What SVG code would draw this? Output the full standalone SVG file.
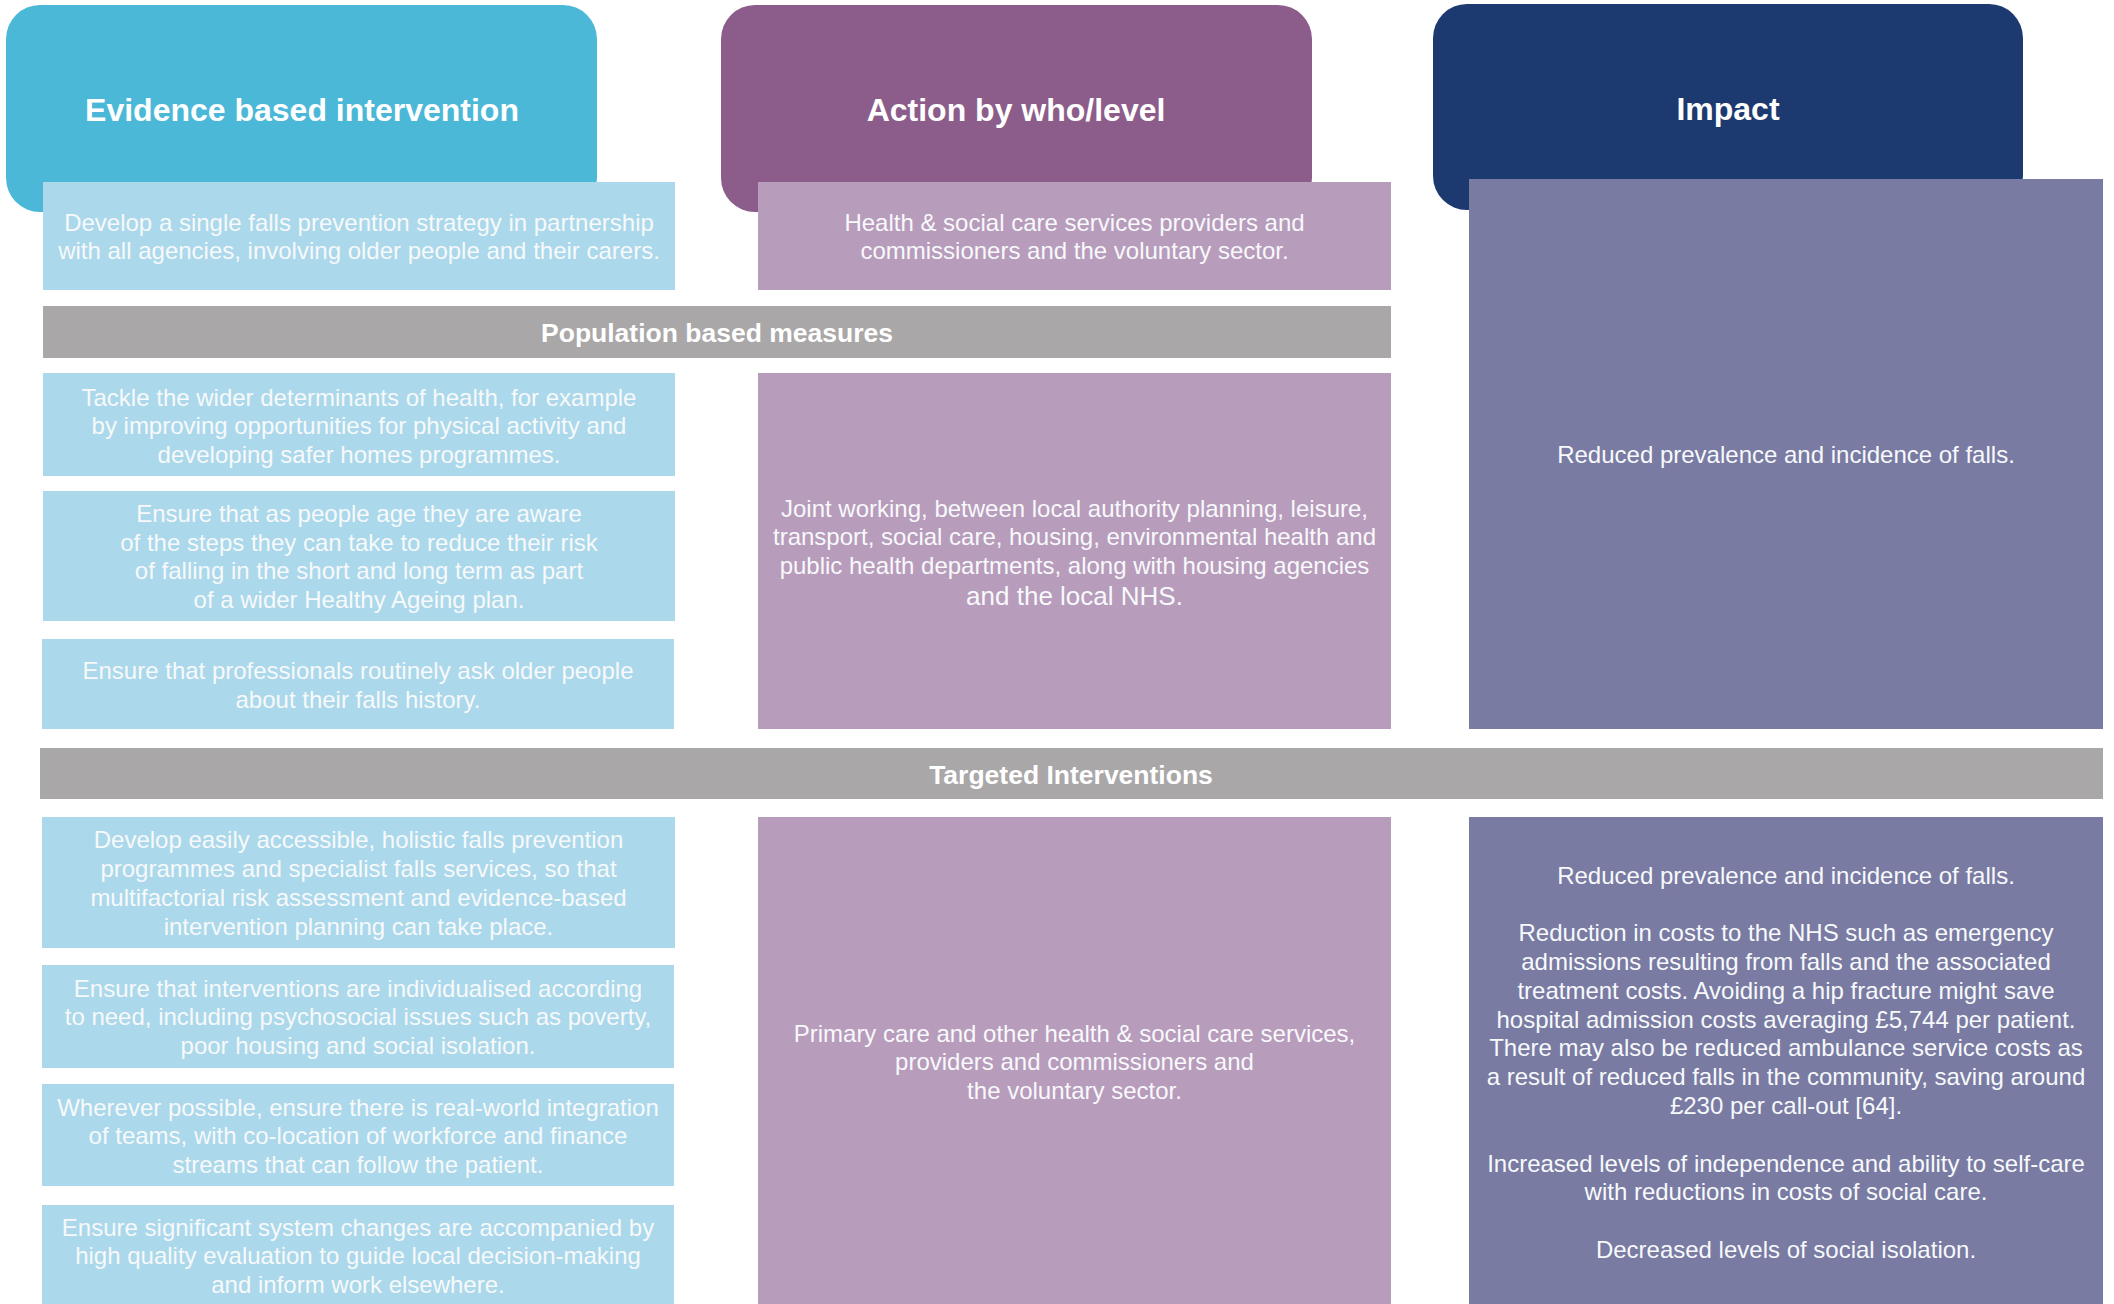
<svg xmlns="http://www.w3.org/2000/svg" width="2114" height="1304" viewBox="0 0 2114 1304">
<style>
.h1{fill:#4CB8D8}.h2{fill:#8C5D8B}.h3{fill:#1D3A70}
.lb{fill:#ABD8EA}.lp{fill:#B89CBC}.im{fill:#797BA3}.bar{fill:#AAA7A8}
.title{font-family:"Liberation Sans",Arial,sans-serif;font-weight:bold;font-size:32px;fill:#FFFFFF;text-anchor:middle}
.bt{font-family:"Liberation Sans",Arial,sans-serif;font-weight:bold;font-size:26.5px;fill:#FFFFFF;text-anchor:middle}
.t{font-family:"Liberation Sans",Arial,sans-serif;font-size:24px;fill:#F7F9FB;text-anchor:middle}
</style>
<rect width="2114" height="1304" fill="#FFFFFF"/>
<g id="header-evidence">
<rect class="h1" x="6" y="5" width="591" height="207" rx="34"/>
<text class="title" x="302" y="120.5">Evidence based intervention</text>
</g>
<g id="header-action">
<rect class="h2" x="721" y="5" width="591" height="207" rx="34"/>
<text class="title" x="1016" y="120.5">Action by who/level</text>
</g>
<g id="header-impact">
<rect class="h3" x="1433" y="4" width="590" height="206" rx="34"/>
<text class="title" x="1728" y="119.5">Impact</text>
</g>
<g id="ev-strategy">
<rect class="lb" x="43" y="182" width="632" height="108"/>
<text class="t" x="359"><tspan x="359" y="230.5">Develop a single falls prevention strategy in partnership</tspan><tspan x="359" y="259.3">with all agencies, involving older people and their carers.</tspan></text>
</g>
<g id="act-strategy">
<rect class="lp" x="758" y="182" width="633" height="108"/>
<text class="t"><tspan x="1074.5" y="230.5">Health &amp; social care services providers and</tspan><tspan x="1074.5" y="259.3">commissioners and the voluntary sector.</tspan></text>
</g>
<g id="impact-population">
<rect class="im" x="1469" y="179" width="634" height="550"/>
<text class="t" x="1786" y="462.5">Reduced prevalence and incidence of falls.</text>
</g>
<g id="bar-population">
<rect class="bar" x="43" y="306" width="1348" height="52"/>
<text class="bt" x="717" y="342">Population based measures</text>
</g>
<g id="ev-tackle">
<rect class="lb" x="43" y="373" width="632" height="103"/>
<text class="t"><tspan x="359" y="405.5">Tackle the wider determinants of health, for example</tspan><tspan x="359" y="434.3">by improving opportunities for physical activity and</tspan><tspan x="359" y="463.1">developing safer homes programmes.</tspan></text>
</g>
<g id="ev-aware">
<rect class="lb" x="43" y="491" width="632" height="130"/>
<text class="t"><tspan x="359" y="521.8">Ensure that as people age they are aware</tspan><tspan x="359" y="550.6">of the steps they can take to reduce their risk</tspan><tspan x="359" y="579.4">of falling in the short and long term as part</tspan><tspan x="359" y="608.2">of a wider Healthy Ageing plan.</tspan></text>
</g>
<g id="ev-history">
<rect class="lb" x="42" y="639" width="632" height="90"/>
<text class="t"><tspan x="358" y="678.8">Ensure that professionals routinely ask older people</tspan><tspan x="358" y="707.6">about their falls history.</tspan></text>
</g>
<g id="act-joint">
<rect class="lp" x="758" y="373" width="633" height="356"/>
<text class="t"><tspan x="1074.5" y="516.5">Joint working, between local authority planning, leisure,</tspan><tspan x="1074.5" y="545.3">transport, social care, housing, environmental health and</tspan><tspan x="1074.5" y="574.1">public health departments, along with housing agencies</tspan><tspan x="1074.5" y="605" style="font-size:26px">and the local NHS.</tspan></text>
</g>
<g id="bar-targeted">
<rect class="bar" x="40" y="748" width="2063" height="51"/>
<text class="bt" x="1071" y="783.5">Targeted Interventions</text>
</g>
<g id="ev-programmes">
<rect class="lb" x="42" y="817" width="633" height="131"/>
<text class="t"><tspan x="358.5" y="848.3">Develop easily accessible, holistic falls prevention</tspan><tspan x="358.5" y="877.1">programmes and specialist falls services, so that</tspan><tspan x="358.5" y="905.9">multifactorial risk assessment and evidence-based</tspan><tspan x="358.5" y="934.7">intervention planning can take place.</tspan></text>
</g>
<g id="ev-individualised">
<rect class="lb" x="42" y="965" width="632" height="103"/>
<text class="t"><tspan x="358" y="996.5">Ensure that interventions are individualised according</tspan><tspan x="358" y="1025.3">to need, including psychosocial issues such as poverty,</tspan><tspan x="358" y="1054.1">poor housing and social isolation.</tspan></text>
</g>
<g id="ev-integration">
<rect class="lb" x="42" y="1084" width="632" height="102"/>
<text class="t"><tspan x="358" y="1115.5">Wherever possible, ensure there is real-world integration</tspan><tspan x="358" y="1144.3">of teams, with co-location of workforce and finance</tspan><tspan x="358" y="1173.1">streams that can follow the patient.</tspan></text>
</g>
<g id="ev-evaluation">
<rect class="lb" x="42" y="1205" width="632" height="110"/>
<text class="t"><tspan x="358" y="1235.5">Ensure significant system changes are accompanied by</tspan><tspan x="358" y="1264.3">high quality evaluation to guide local decision-making</tspan><tspan x="358" y="1293.1">and inform work elsewhere.</tspan></text>
</g>
<g id="act-primary">
<rect class="lp" x="758" y="817" width="633" height="500"/>
<text class="t"><tspan x="1074.5" y="1041.5">Primary care and other health &amp; social care services,</tspan><tspan x="1074.5" y="1070.3">providers and commissioners and</tspan><tspan x="1074.5" y="1099.1">the voluntary sector.</tspan></text>
</g>
<g id="impact-targeted">
<rect class="im" x="1469" y="817" width="634" height="500"/>
<text class="t"><tspan x="1786" y="883.5">Reduced prevalence and incidence of falls.</tspan><tspan x="1786" y="941.1">Reduction in costs to the NHS such as emergency</tspan><tspan x="1786" y="969.9">admissions resulting from falls and the associated</tspan><tspan x="1786" y="998.7">treatment costs. Avoiding a hip fracture might save</tspan><tspan x="1786" y="1027.5">hospital admission costs averaging £5,744 per patient.</tspan><tspan x="1786" y="1056.3">There may also be reduced ambulance service costs as</tspan><tspan x="1786" y="1085.1">a result of reduced falls in the community, saving around</tspan><tspan x="1786" y="1113.9">£230 per call-out [64].</tspan><tspan x="1786" y="1171.5">Increased levels of independence and ability to self-care</tspan><tspan x="1786" y="1200.3">with reductions in costs of social care.</tspan><tspan x="1786" y="1257.9">Decreased levels of social isolation.</tspan></text>
</g>
<g id="connectors"></g>
</svg>
